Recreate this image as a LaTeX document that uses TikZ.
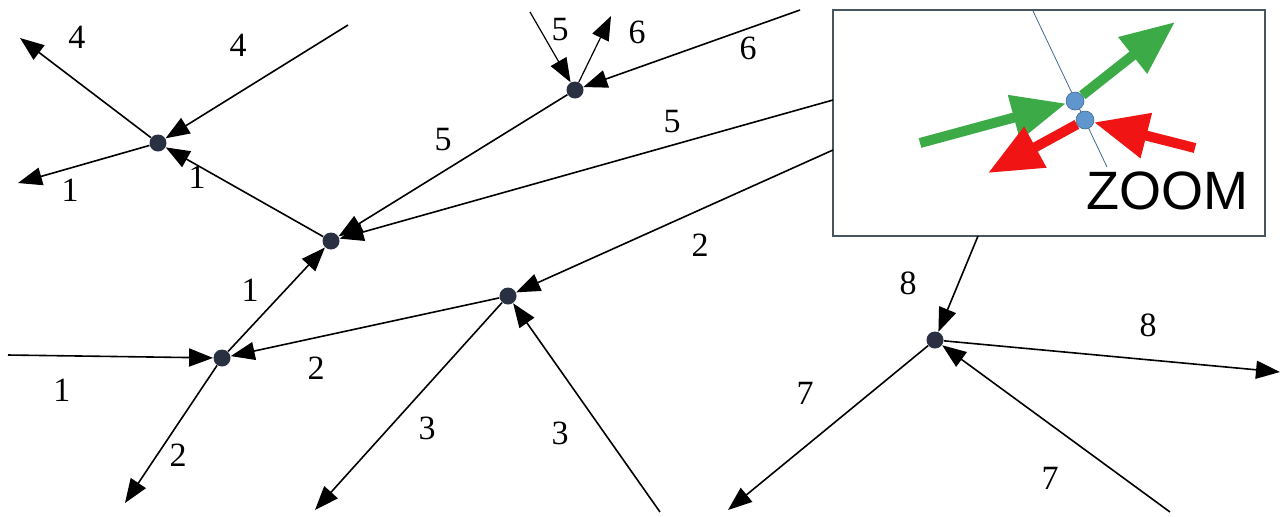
\documentclass[tikz,border=0pt]{standalone}
\usepackage{fontspec}
\setmainfont{Liberation Serif}
\newfontfamily\zoomfont{Liberation Sans}
\usepackage{tikz}
\usetikzlibrary{arrows.meta,positioning}

\definecolor{dotgrey}{RGB}{40,48,66}
\definecolor{dotblue}{RGB}{95,150,205}
\definecolor{boxline}{RGB}{70,85,95}
\definecolor{zgreen}{RGB}{60,170,70}
\definecolor{zred}{RGB}{240,20,20}

\begin{document}
\begin{tikzpicture}[
    x=0.5pt, y=-0.5pt,
    junction/.style={circle, fill=dotgrey, inner sep=0pt, minimum size=8.5pt},
    arrow/.style={-{Triangle[length=12pt, width=9pt]}, line width=0.8pt},
    lbl/.style={font=\fontsize{17}{19}\selectfont, inner sep=0pt},
    zoombox/.style={rectangle, draw=boxline, line width=0.9pt, minimum width=216pt, minimum height=113pt, inner sep=0pt},
    bigarrow/.style={-{Triangle[length=27pt, width=22pt]}, line width=5pt}
]
\useasboundingbox (0,0) rectangle (1280,516);

% Zoom window
\node[zoombox] (zoom) at (1049,123) {};
\draw[dotblue!70!black, line width=0.4pt] (1033,11) -- (1107,167);
\node[font=\zoomfont\fontsize{27}{30}\selectfont, inner sep=0pt] (zoomtxt) at (1167,191) {ZOOM};
\coordinate (gin) at (920,143);
\coordinate (gout) at (1175,22);
\coordinate (rin) at (1195,148);
\coordinate (rout) at (988,173);
\node[circle, fill=dotblue, draw=dotblue!70!black, line width=0.3pt, inner sep=0pt, minimum size=9pt] (zb1) at (1075,101) {};
\node[circle, fill=dotblue, draw=dotblue!70!black, line width=0.3pt, inner sep=0pt, minimum size=9pt] (zb2) at (1085,120) {};
\draw[bigarrow, zgreen] (gin) -- (zb1);
\draw[bigarrow, zgreen] (zb1) -- (gout);
\draw[bigarrow, zred] (rin) -- (zb2);
\draw[bigarrow, zred] (zb2) -- (rout);

% Junctions
\node[junction] (ja) at (158,143) {};
\node[junction] (jb) at (331,241) {};
\node[junction] (jc) at (222,358) {};
\node[junction] (jd) at (508,296) {};
\node[junction] (je) at (575,90) {};
\node[junction] (jf) at (935,340) {};

% Free ends
\coordinate (a1) at (20,38);
\coordinate (a2) at (348,25);
\coordinate (a3) at (18,183);
\coordinate (c1) at (8,355);
\coordinate (c2) at (125,503);
\coordinate (d1) at (315,510);
\coordinate (d2) at (660,512);
\coordinate (e1) at (530,12);
\coordinate (e2) at (611,16);
\coordinate (e3) at (800,10);
\coordinate (z5) at (833,100);
\coordinate (z2) at (833,150);
\coordinate (z8) at (978,236);
\coordinate (f1) at (1280,372);
\coordinate (f2) at (728,510);
\coordinate (f3) at (1170,512);

% Connectors
\draw[arrow] (ja) -- (a1);
\draw[arrow] (a2) -- (ja);
\draw[arrow] (ja) -- (a3);
\draw[arrow] (jb) -- (ja);
\draw[arrow] (je) -- (jb);
\draw[arrow] (z5) -- (jb);
\draw[arrow] (jc) -- (jb);
\draw[arrow] (c1) -- (jc);
\draw[arrow] (jd) -- (jc);
\draw[arrow] (jc) -- (c2);
\draw[arrow] (z2) -- (jd);
\draw[arrow] (jd) -- (d1);
\draw[arrow] (d2) -- (jd);
\draw[arrow, line width=0.6pt] (e1) -- (je);
\draw[arrow, line width=0.6pt] (je) -- (e2);
\draw[arrow] (e3) -- (je);
\draw[arrow] (z8) -- (jf);
\draw[arrow] (jf) -- (f1);
\draw[arrow] (jf) -- (f2);
\draw[arrow] (f3) -- (jf);

% Labels
\node[lbl] (l4a) at (77,37) {4};
\node[lbl] (l4b) at (238,45) {4};
\node[lbl] (l1a) at (70,190) {1};
\node[lbl] (l1b) at (197,177) {1};
\node[lbl] (l5a) at (443,140) {5};
\node[lbl] (l5b) at (672,122) {5};
\node[lbl] (l1c) at (250,290) {1};
\node[lbl] (l1d) at (62,390) {1};
\node[lbl] (l2a) at (316,368) {2};
\node[lbl] (l2b) at (178,455) {2};
\node[lbl] (l2c) at (700,245) {2};
\node[lbl] (l3a) at (427,428) {3};
\node[lbl] (l3b) at (560,433) {3};
\node[lbl] (l5c) at (560,30) {5};
\node[lbl] (l6a) at (637,32) {6};
\node[lbl] (l6b) at (748,48) {6};
\node[lbl] (l8a) at (908,283) {8};
\node[lbl] (l8b) at (1148,325) {8};
\node[lbl] (l7a) at (805,393) {7};
\node[lbl] (l7b) at (1050,478) {7};

\end{tikzpicture}
\end{document}
